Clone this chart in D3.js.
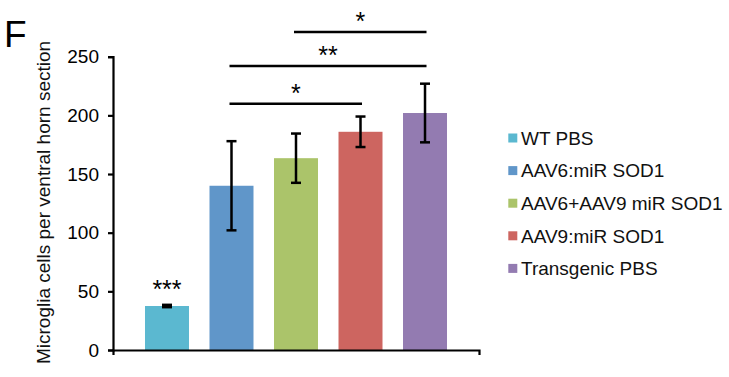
<!DOCTYPE html>
<html>
<head>
<meta charset="utf-8">
<script src="https://cdn.jsdelivr.net/npm/d3@7"></script>
<style>
  body { margin: 0; background: #fff; }
  svg { display: block; font-family: "Liberation Sans", Arial, sans-serif; }
</style>
</head>
<body>
<svg id="chart" width="729" height="377"></svg>
<script>
const groups = ["WT PBS", "AAV6:miR SOD1", "AAV6+AAV9 miR SOD1", "AAV9:miR SOD1", "Transgenic PBS"];
const means = [37.5, 140, 163.5, 186, 202];
const errors = [1, 38, 21, 13, 25];
const colors = ["#5BB8D0", "#6096C9", "#ABC46A", "#CD6560", "#937BB1"];
const yTicks = [0, 50, 100, 150, 200, 250];
const sigFrom = ["AAV6:miR SOD1", "AAV6:miR SOD1", "AAV6+AAV9 miR SOD1"];
const sigTo = ["AAV9:miR SOD1", "Transgenic PBS", "Transgenic PBS"];
const sigLevel = [210, 242, 271];
const sigLabel = ["*", "**", "*"];
const barMarks = ["***", "", "", "", ""];
const yTitle = "Microglia cells per ventral horn section";
const panel = "F";

const svg = d3.select("#chart");
const plotLeft = 113, plotRight = 479, plotTop = 56.7, plotBottom = 350;

const y = d3.scaleLinear().domain([0, 250]).range([plotBottom, plotTop]);
const x = d3.scaleBand().domain(groups).range([plotLeft, plotRight]).paddingInner(0.318).paddingOuter(0.496);

// bars
svg.append("g").selectAll("rect").data(groups).join("rect")
  .attr("x", d => x(d))
  .attr("width", x.bandwidth())
  .attr("y", (d, i) => y(means[i]))
  .attr("height", (d, i) => y(0) - y(means[i]))
  .attr("fill", (d, i) => colors[i]);

// error bars
const eb = svg.append("g").attr("stroke", "#000").attr("stroke-width", 2.5);
groups.forEach((g, i) => {
  const cx = x(g) + x.bandwidth() / 2;
  const y1 = y(means[i] + errors[i]), y2 = y(means[i] - errors[i]);
  eb.append("line").attr("x1", cx).attr("x2", cx).attr("y1", y1).attr("y2", y2);
  eb.append("line").attr("x1", cx - 5).attr("x2", cx + 5).attr("y1", y1).attr("y2", y1);
  eb.append("line").attr("x1", cx - 5).attr("x2", cx + 5).attr("y1", y2).attr("y2", y2);
  if (barMarks[i]) {
    svg.append("text").attr("x", cx).attr("y", y1 - 6.5)
      .attr("text-anchor", "middle").attr("font-size", 25).text(barMarks[i]);
  }
});

// y axis
const yAxis = svg.append("g").attr("transform", `translate(${plotLeft},0)`)
  .call(d3.axisLeft(y).tickValues(yTicks).tickSize(5).tickPadding(9).tickSizeOuter(5));
yAxis.select(".domain").attr("stroke-width", 2.2);
yAxis.selectAll(".tick line").attr("stroke-width", 2.2);
yAxis.selectAll(".tick text").attr("font-size", 19).attr("fill", "#000")
  .attr("font-family", "'Liberation Sans', Arial, sans-serif");

// x axis (single category axis with end ticks)
const xAxisScale = d3.scaleLinear().domain([0, 1]).range([plotLeft, plotRight]);
const xAxis = svg.append("g").attr("transform", `translate(0,${plotBottom})`)
  .call(d3.axisBottom(xAxisScale).tickValues([]).tickSizeOuter(5));
xAxis.select(".domain").attr("stroke-width", 2.2);

// significance brackets
const sg = svg.append("g");
sigFrom.forEach((f, i) => {
  const x1 = x(f) + x.bandwidth() / 2 - 2;
  const x2 = x(sigTo[i]) + x.bandwidth() / 2 + 1.5;
  const ly = y(sigLevel[i]);
  sg.append("line").attr("x1", x1).attr("x2", x2).attr("y1", ly).attr("y2", ly)
    .attr("stroke", "#000").attr("stroke-width", 2.5);
  sg.append("text").attr("x", (x1 + x2) / 2).attr("y", ly - 2)
    .attr("text-anchor", "middle").attr("font-size", 25).text(sigLabel[i]);
});

// y title
svg.append("text")
  .attr("transform", `translate(50,202.5) rotate(-90)`)
  .attr("text-anchor", "middle").attr("font-size", 19).attr("fill", "#111")
  .text(yTitle);

// panel letter
svg.append("text").attr("x", 4).attr("y", 47).attr("font-size", 37).text(panel);

// legend
const lg = svg.append("g");
groups.forEach((g, i) => {
  const cy = 138 + i * 32.6;
  lg.append("rect").attr("x", 508.3).attr("y", cy - 4.5).attr("width", 9).attr("height", 9)
    .attr("fill", colors[i]);
  lg.append("text").attr("x", 521).attr("y", cy + 6.8).attr("font-size", 19).attr("fill", "#111").text(g);
});
</script>
</body>
</html>
